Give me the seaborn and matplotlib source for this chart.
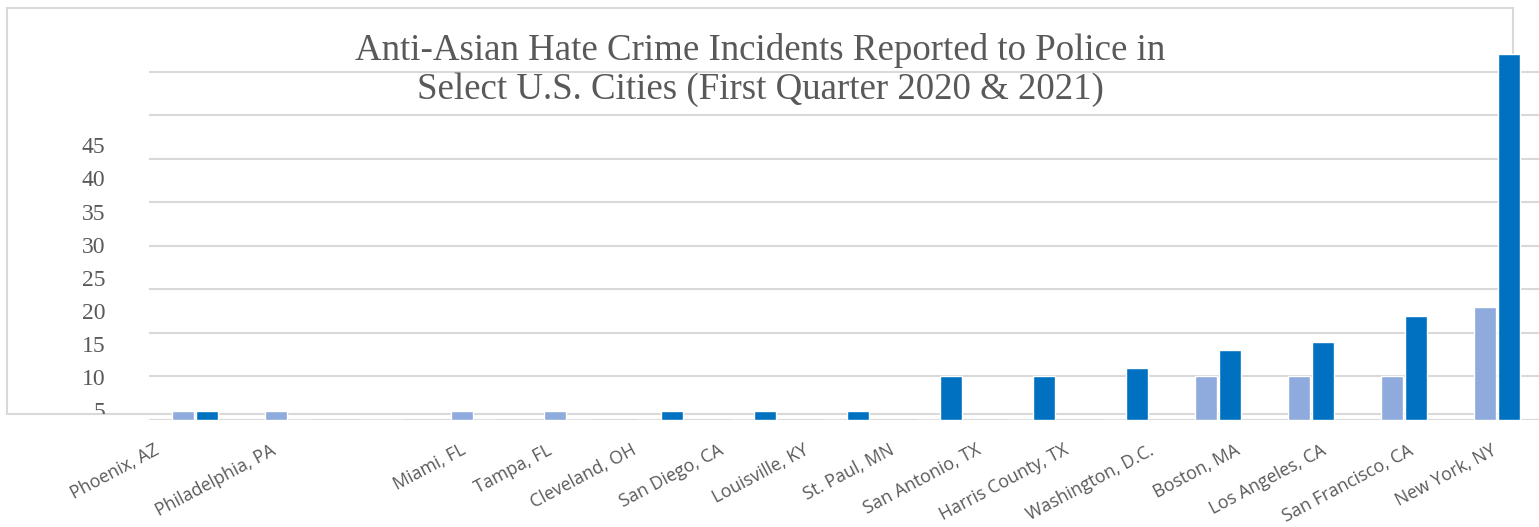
#!/usr/bin/env python3

import matplotlib
matplotlib.use("Agg")
import matplotlib.pyplot as plt
from matplotlib.patches import Rectangle
from matplotlib.transforms import Bbox, TransformedBbox
import pandas as pd
import seaborn as sns

cities = [
    "Phoenix, AZ", "Philadelphia, PA", "Miami, FL", "Tampa, FL", "Cleveland, OH",
    "San Diego, CA", "Louisville, KY", "St. Paul, MN", "San Antonio, TX",
    "Harris County, TX", "Washington, D.C.", "Boston, MA", "Los Angeles, CA",
    "San Francisco, CA", "New York, NY",
]
q1_2020 = [1, 1, 0, 1, 1, 0, 0, 0, 0, 0, 0, 5, 5, 5, 13]
q1_2021 = [1, 0, 0, 0, 0, 1, 1, 1, 5, 5, 6, 8, 9, 12, 42]
years = ["2020", "2021"]
y_tick_labels = [5, 10, 15, 20, 25, 30, 35, 40, 45]

# where the city names sit (category units) - they drift from the bars in the original
label_ticks = [-0.40, 0.86, 2.90, 3.82, 4.73, 5.67, 6.58, 7.51, 8.44,
               9.38, 10.30, 11.22, 12.15, 13.09, 13.98]

TITLE = "Anti-Asian Hate Crime Incidents Reported to Police in\nSelect U.S. Cities (First Quarter 2020 & 2021)"
GREY = "#595959"
GRID = "#D9D9D9"


def build_frame() -> pd.DataFrame:
    rows = []
    for city, a, b in zip(cities, q1_2020, q1_2021):
        rows.append({"city": city, "year": years[0], "count": a})
        rows.append({"city": city, "year": years[1], "count": b})
    return pd.DataFrame(rows)


def main():
    df = build_frame()
    sns.set_style("white")

    W, H = 1539, 527
    fig = plt.figure(figsize=(W / 100, H / 100), dpi=100)

    # outer chart border (drawn behind the plot)
    fig.add_artist(Rectangle((7 / W, 1 - 414 / H), 1506 / W, 406 / H,
                             transform=fig.transFigure, fill=False,
                             edgecolor=GRID, linewidth=1.5, zorder=-1))

    # plot area: baseline at y=420px, 15 categories of 93px starting at x=148.5
    rect = [148.5 / W, 1 - 420 / H, 1395 / W, 383 / H]
    ax = fig.add_axes(rect)
    ax.set_facecolor("none")

    sns.barplot(data=df, x="city", y="count", hue="year", order=cities,
                hue_order=years, palette=["#8FAADC", "#0070C0"],
                width=0.52, gap=0.1, saturation=1, legend=False, ax=ax, zorder=3)

    ax.set_ylim(0, 44)
    ax.set_xlim(-0.5, len(cities) - 0.5)
    ax.set_yticks(range(0, 45, 5))
    ax.yaxis.grid(True, color=GRID, linewidth=1.5, zorder=0)
    ax.set_axisbelow(True)
    ax.axhline(0, color=GRID, linewidth=2.2, zorder=2)
    ax.tick_params(axis="y", left=False, labelleft=False)
    ax.tick_params(axis="x", length=0, pad=21)
    ax.set_xticks(label_ticks)
    ax.set_xticklabels(cities, rotation=28, ha="right", va="center",
                       rotation_mode="anchor", fontsize=12.8, color=GREY,
                       family="Open Sans")
    ax.set_xlabel("")
    ax.set_ylabel("")
    for s in ax.spines.values():
        s.set_visible(False)

    # value labels sit on their own scale, offset from the gridlines
    ax_lab = fig.add_axes(rect, frameon=False)
    ax_lab.set_ylim(3.5, 3.5 + 44 * 8.68 / 6.6)
    ax_lab.set_yticks(y_tick_labels)
    ax_lab.set_yticklabels([str(v) for v in y_tick_labels], fontsize=17,
                           color=GREY, family="Liberation Serif")
    ax_lab.tick_params(axis="y", length=0, pad=31)
    ax_lab.tick_params(axis="x", bottom=False, labelbottom=False)
    ax_lab.patch.set_visible(False)
    # the lowest label is cut off by the chart border
    clip = TransformedBbox(Bbox([[0, 1 - 414 / H], [1, 1]]), fig.transFigure)
    for lbl in ax_lab.get_yticklabels():
        lbl.set_clip_box(clip)
        lbl.set_clip_on(True)

    fig.text(760 / W, 1 - 70 / H, TITLE, ha="center", va="center",
             fontsize=26.6, color=GREY, family="Liberation Serif", linespacing=1.14)

    fig.savefig("out.png", dpi=100)
    plt.close(fig)


if __name__ == "__main__":
    main()
